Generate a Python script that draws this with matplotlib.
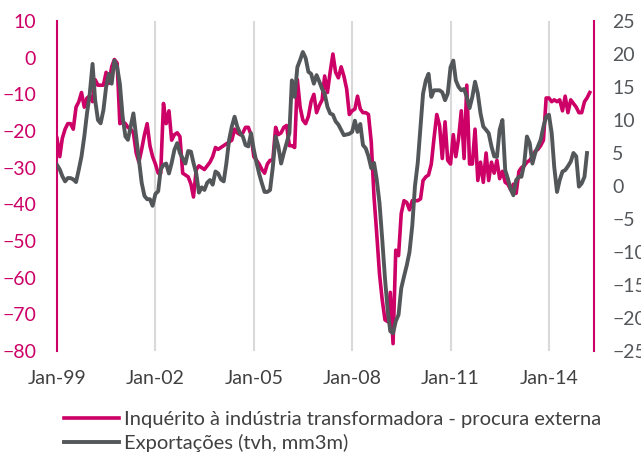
import matplotlib
matplotlib.use("Agg")
import matplotlib.pyplot as plt
import matplotlib.dates as mdates
import pandas as pd

# Inquérito à indústria transformadora - procura externa (left axis), monthly from Jan-1999
survey = [
    -22, -27, -22, -19.5, -18, -18, -19.5, -13.5, -12, -9.5, -13.5, -11,
    -10.5, -12, -6, -7.5, -7.5, -7.5, -4, -7, -2.5, -0.5, -1.5, -18,
    -17.5, -18, -19, -19.5, -20.5, -26, -28.5, -25, -21, -18, -24, -27,
    -29, -31.5, -31.5, -12.5, -18, -14.5, -22.5, -21, -20.5, -21.5, -31.5, -32,
    -32.5, -34.5, -38, -30.5, -29.5, -30, -30.5, -29.5, -28.5, -27, -24.5, -25,
    -24.5, -24, -23.5, -23, -22.5, -19.5, -20.5, -21, -20.5, -19, -19, -21,
    -27, -28, -29, -30.5, -31.5, -29, -28, -28, -19, -21, -20.5, -19,
    -18.5, -24, -24, -24.5, -6, -13.5, -17, -18, -16, -12, -10, -15,
    -13, -11.5, -5, -9.5, -4, 1, -4, -5.5, -2.5, -5, -8.5, -15.5,
    -14.5, -14, -10.5, -14, -15, -15, -15.5, -23, -38, -48, -59, -66,
    -71.5, -72, -64, -78, -52.5, -54, -42.5, -39, -39.5, -41.5, -39, -39,
    -39, -38.5, -33.5, -32.5, -32, -29, -22, -15.5, -18.5, -27.5, -17.5, -28,
    -29, -21, -27, -22, -14.5, -27.5, -7.5, -29, -29, -19.5, -33.5, -28.5,
    -34, -26, -33.5, -28.5, -31.5, -28, -33, -31, -34, -34.5, -36, -34.5,
    -37, -31, -30, -29.5, -28.5, -28, -27, -25.5, -25, -24, -22.5, -11,
    -11, -12, -11.5, -12, -11.5, -14.5, -10.5, -15, -11.5, -12.5, -13.5, -15,
    -15, -12, -11, -9.5,
]

# Exportações (tvh, mm3m) (right axis), monthly from Jan-1999
exports = [
    3.2, 2.5, 1.5, 0.7, 1.2, 1.2, 1, 0.6, 2.5, 4.5, 7.5, 11,
    14, 18.5, 13, 10, 9.5, 11.5, 15, 17, 15.5, 19, 18, 15.5,
    10.5, 7.5, 7, 9, 11, 7.5, 4, 0.5, -1.5, -2, -2, -3,
    -1.2, -0.8, 2.5, 3.2, 3.4, 1.9, 3.5, 5.5, 6.5, 5, 4.2, 3.4,
    5.3, 5.2, 3.5, 1.9, -1, -0.2, -0.6, 0.5, 0.9, 0.2, 2.2, 1.9,
    1, 0.7, 3.4, 7, 9, 10.5, 9, 8, 7.5, 6.2, 6, 8,
    5.5, 3.5, 1.9, 0.4, -0.9, -0.9, -0.6, 2.9, 7.5, 6, 3.4, 5,
    6.5, 8, 16, 13.5, 18, 19.1, 20.3, 19.4, 17.3, 17, 15.5, 16.8,
    15.8, 14.7, 14, 12, 11, 10.8, 9.8, 9.3, 8.5, 7.7, 7.8, 7.9,
    8.2, 9.9, 8.2, 9.4, 6.2, 5.7, 4.5, 2.7, 3.5, 1, -2.6, -8,
    -14, -19, -22, -22.3, -20.5, -19.5, -15.5, -13.7, -12, -10, -6, 0,
    3.5, 9, 14, 16, 17, 13.5, 14.5, 14.5, 14.5, 14.2, 13, 14,
    18, 19, 16, 15, 14.5, 14.7, 13.5, 11.8, 13.5, 15.8, 14, 11,
    9, 8.5, 8, 6, 4.5, 4.4, 8.5, 10, 2.4, 1.1, -0.5, -1.4,
    0.9, 1.4, 1.4, 3.4, 7.5, 6.5, 3.4, 5, 6, 7, 9, 10.5,
    10.8, 8, 2.9, -0.9, 0.9, 2.2, 2.4, 3, 3.7, 5, 4.5, -0.1,
    0.4, 1.4, 5,
]

label_survey = "Inquérito à indústria transformadora - procura externa"
label_exports = "Exportações (tvh, mm3m)"
start_date = "1999-01-01"
x_tick_dates = ["1999-01-01", "2002-01-01", "2005-01-01", "2008-01-01",
                "2011-01-01", "2014-01-01"]
left_ticks = list(range(-80, 11, 10))
right_ticks = list(range(-25, 26, 5))

MAGENTA = "#CC0066"
GREY = "#54575A"

plt.rcParams["font.family"] = ["Lato", "DejaVu Sans"]

dates_s = pd.date_range(start_date, periods=len(survey), freq="MS")
dates_e = pd.date_range(start_date, periods=len(exports), freq="MS")

fig = plt.figure(figsize=(6.41, 4.55), dpi=100)
ax = fig.add_axes([57 / 641, 1 - 351 / 455, (594 - 57) / 641, 330 / 455])
ax2 = ax.twinx()

l1, = ax.plot(dates_s, survey, color=MAGENTA, lw=2.6, solid_joinstyle="round",
              label=label_survey, zorder=3)
l2, = ax2.plot(dates_e, exports, color=GREY, lw=2.8, solid_joinstyle="round",
               label=label_exports, zorder=3)

ax.set_ylim(-80, 10)
ax2.set_ylim(-25, 25)
ax.set_yticks(left_ticks)
ax2.set_yticks(right_ticks)
ax.set_xlim(pd.Timestamp("1999-01-01"), pd.Timestamp("2015-05-18"))

ax.set_xticks(pd.to_datetime(x_tick_dates))
ax.xaxis.set_major_formatter(mdates.DateFormatter("%b-%y"))
ax.grid(axis="x", color="#D9D9D9", lw=1.5, zorder=0)
ax.set_axisbelow(True)

for a in (ax, ax2):
    for s in ("top", "bottom"):
        a.spines[s].set_visible(False)
ax.spines["right"].set_visible(False)
ax2.spines["left"].set_visible(False)
ax.spines["left"].set_color(MAGENTA)
ax.spines["left"].set_linewidth(1.5)
ax2.spines["right"].set_color(MAGENTA)
ax2.spines["right"].set_linewidth(1.5)

ax.tick_params(axis="y", length=0, pad=15, labelsize=14, colors=MAGENTA)
ax2.tick_params(axis="y", length=0, pad=13, labelsize=14, colors=GREY)
ax.tick_params(axis="x", length=0, pad=14, labelsize=14, colors="#404040")

fig.legend(handles=[l1, l2], loc="upper left", bbox_to_anchor=(64 / 641, 1 - 411 / 455),
           frameon=False, fontsize=14.5, handlelength=2.75, handletextpad=0.25,
           labelspacing=0.3, borderaxespad=0, borderpad=0, labelcolor="#404040")

fig.savefig("out.png", dpi=100)
